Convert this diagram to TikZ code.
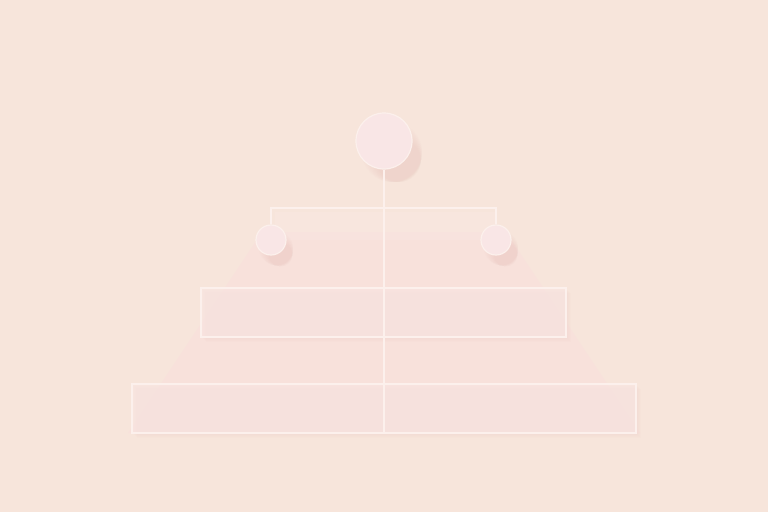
\documentclass[tikz,border=0pt]{standalone}
\definecolor{bgc}{HTML}{F7E5DB}
\definecolor{trap}{HTML}{F9DEDC}
\definecolor{boxc}{HTML}{FAE8E6}
\definecolor{circc}{HTML}{F9E6E6}
\definecolor{linec}{HTML}{FCF0EC}
\definecolor{shad}{HTML}{E9C2BC}
\begin{document}
\begin{tikzpicture}[x=1pt,y=-1pt,
  conn/.style={draw=linec,line width=1.6pt},
  circ/.style={circle,draw=linec,line width=1.2pt,fill=circc,inner sep=0pt},
  tier/.style={rectangle,draw=linec,line width=1.1pt,fill=boxc,fill opacity=0.5,inner sep=0pt},
  sh/.style={fill=shad,opacity=0.06}]
\fill[bgc] (0,0) rectangle (768,512);
\useasboundingbox (0,0) rectangle (768,512);
% trapezoid
\fill[trap,opacity=0.5] (262,232) -- (506,232) -- (640,433) -- (128,433) -- cycle;
\fill[boxc,opacity=0.35] (275,212) rectangle (495,240);
% tier shadows
\foreach \i in {1,...,5}{
  \fill[sh,opacity=0.035] (201+\i,288+\i) rectangle (566+\i,337+\i);
  \fill[sh,opacity=0.035] (132+\i,384+\i) rectangle (636+\i,433+\i);
}
% tiers
\node[tier,minimum width=365pt,minimum height=49pt] (t1) at (383.5,312.5) {};
\node[tier,minimum width=504pt,minimum height=49pt] (t2) at (384,408.5) {};
% circle shadows
\foreach \i in {0,...,7}{
  \fill[sh] (384+8+\i,141+11+\i*1.2) circle (30-\i*1.2);
  \fill[sh] (271+5+\i*0.7,240+8+\i) circle (17-\i*0.8);
  \fill[sh] (496+5+\i*0.7,240+8+\i) circle (17-\i*0.8);
}
% circles
\node[circ,minimum size=56pt] (top) at (384,141) {};
\node[circ,minimum size=30pt] (l) at (271,240) {};
\node[circ,minimum size=30pt] (r) at (496,240) {};
\coordinate (bl) at (271,208);
\coordinate (br) at (496,208);
\draw[conn] (top.south) -- (t2.south);
\draw[conn] (l.north) -- (bl) -- (br) -- (r.north);
\end{tikzpicture}
\end{document}
